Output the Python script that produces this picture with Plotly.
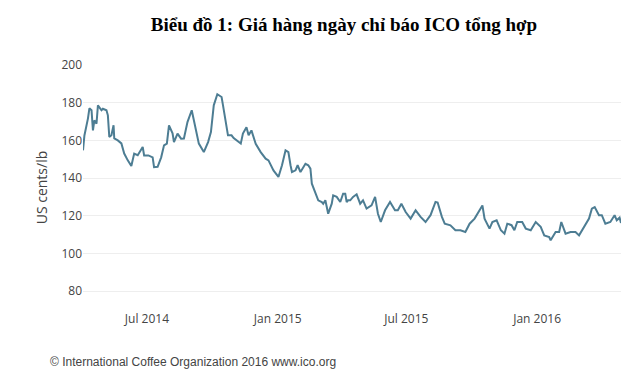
import plotly.graph_objects as go

dates = [
    "2014-04-02", "2014-04-04", "2014-04-09", "2014-04-11", "2014-04-14", "2014-04-16",
    "2014-04-18", "2014-04-21", "2014-04-23", "2014-04-28", "2014-04-30", "2014-05-05",
    "2014-05-07", "2014-05-09", "2014-05-12", "2014-05-15", "2014-05-16", "2014-05-21",
    "2014-05-26", "2014-05-30", "2014-06-04", "2014-06-09", "2014-06-13", "2014-06-18",
    "2014-06-25", "2014-06-27", "2014-07-03", "2014-07-09", "2014-07-11", "2014-07-16",
    "2014-07-21", "2014-07-25", "2014-07-29", "2014-08-01", "2014-08-06", "2014-08-08",
    "2014-08-13", "2014-08-18", "2014-08-22", "2014-08-27", "2014-09-02", "2014-09-08",
    "2014-09-12", "2014-09-19", "2014-09-25", "2014-09-29", "2014-10-03", "2014-10-08",
    "2014-10-14", "2014-10-16", "2014-10-20", "2014-10-23", "2014-10-28", "2014-10-31",
    "2014-11-10", "2014-11-13", "2014-11-18", "2014-11-21", "2014-11-25", "2014-12-01",
    "2014-12-08", "2014-12-15", "2014-12-19", "2014-12-26", "2015-01-02", "2015-01-07",
    "2015-01-12", "2015-01-16", "2015-01-19", "2015-01-21", "2015-01-26", "2015-01-29",
    "2015-02-02", "2015-02-09", "2015-02-13", "2015-02-16", "2015-02-18", "2015-02-23",
    "2015-02-27", "2015-03-04", "2015-03-06", "2015-03-09", "2015-03-13", "2015-03-18",
    "2015-03-20", "2015-03-25", "2015-03-30", "2015-04-03", "2015-04-06", "2015-04-08",
    "2015-04-10", "2015-04-13", "2015-04-17", "2015-04-22", "2015-04-27", "2015-05-01",
    "2015-05-06", "2015-05-13", "2015-05-18", "2015-05-22", "2015-05-26", "2015-06-01",
    "2015-06-08", "2015-06-15", "2015-06-19", "2015-06-24", "2015-06-30", "2015-07-07",
    "2015-07-14", "2015-07-21", "2015-07-28", "2015-08-04", "2015-08-11", "2015-08-14",
    "2015-08-20", "2015-08-24", "2015-09-01", "2015-09-08", "2015-09-15", "2015-09-22",
    "2015-09-28", "2015-10-05", "2015-10-09", "2015-10-14", "2015-10-16", "2015-10-19",
    "2015-10-26", "2015-10-30", "2015-11-05", "2015-11-11", "2015-11-16", "2015-11-20",
    "2015-11-26", "2015-11-30", "2015-12-04", "2015-12-11", "2015-12-16", "2015-12-23",
    "2015-12-30", "2016-01-06", "2016-01-11", "2016-01-18", "2016-01-20", "2016-01-27",
    "2016-02-01", "2016-02-04", "2016-02-10", "2016-02-17", "2016-02-24", "2016-02-29",
    "2016-03-07", "2016-03-14", "2016-03-18", "2016-03-22", "2016-03-28", "2016-04-01",
    "2016-04-06", "2016-04-13", "2016-04-19", "2016-04-22", "2016-04-26", "2016-04-28",
]

prices = [
    154.7, 162.6, 171.7, 177.0, 176.0, 165.3,
    170.6, 168.9, 178.6, 176.0, 176.8, 176.0,
    173.3, 161.8, 162.7, 168.0, 161.0, 160.0,
    158.4, 153.0, 149.4, 146.4, 153.0, 152.1,
    156.5, 152.0, 152.0, 151.0, 145.8, 146.0,
    151.0, 157.4, 158.3, 168.0, 163.7, 159.1,
    163.6, 160.9, 161.0, 169.7, 176.0, 166.2,
    158.3, 153.8, 159.1, 164.4, 178.6, 184.5,
    183.0, 178.6, 169.7, 162.7, 162.7, 161.2,
    158.3, 163.6, 167.0, 162.7, 165.3, 158.2,
    153.8, 150.3, 149.4, 144.1, 140.6, 146.8,
    154.7, 153.8, 146.8, 143.2, 144.1, 146.8,
    143.2, 147.6, 146.8, 145.0, 137.0, 132.6,
    128.2, 127.3, 126.4, 128.2, 121.1, 126.4,
    130.8, 130.0, 127.3, 131.7, 131.7, 127.3,
    128.2, 128.2, 130.0, 131.4, 126.4, 128.2,
    123.8, 125.5, 130.0, 121.1, 116.7, 122.9,
    127.3, 122.9, 122.9, 126.4, 122.0, 118.5,
    122.9, 119.4, 116.7, 120.3, 127.3, 127.0,
    119.4, 115.8, 114.9, 112.3, 112.3, 111.4,
    115.8, 118.5, 121.1, 124.6, 125.5, 118.5,
    113.2, 116.7, 117.6, 112.3, 110.5, 115.8,
    115.0, 112.3, 116.7, 116.7, 113.2, 112.3,
    116.7, 114.1, 109.6, 108.7, 107.0, 111.4,
    111.4, 116.7, 110.5, 111.4, 111.4, 109.6,
    114.0, 118.5, 123.8, 124.6, 120.3, 120.3,
    115.8, 116.7, 120.3, 117.6, 119.0, 116.2,
]

title_text = "Biểu đồ 1: Giá hàng ngày chỉ báo ICO tổng hợp"
y_title = "US cents/lb"
footer_text = "© International Coffee Organization 2016 www.ico.org"

W, H = 630, 371

fig = go.Figure()
fig.add_trace(go.Scatter(
    x=dates, y=prices, mode="lines",
    line=dict(color="#4d7d93", width=2),
    showlegend=False,
))

fig.update_layout(
    width=W, height=H,
    margin=dict(l=75, r=17, t=57, b=69),
    paper_bgcolor="white", plot_bgcolor="white",
    font=dict(family="Open Sans, sans-serif", size=12, color="#444"),
    title=dict(
        text="<b>" + title_text + "</b>",
        font=dict(family="Liberation Serif, Times New Roman, serif", size=19, color="black"),
        x=336 / W, xanchor="center", xref="container",
        y=1 - 16 / H, yanchor="middle", yref="container",
    ),
    xaxis=dict(
        type="date",
        range=["2014-04-02", "2016-04-28"],
        tick0="2014-01-01", dtick="M6", tickformat="%b %Y",
        showgrid=False, zeroline=False, showline=False, ticks="",
        tickfont=dict(size=12, color="#444"),
    ),
    yaxis=dict(
        range=[70, 200], dtick=20, tick0=0,
        showgrid=True, gridcolor="#eeeeee", gridwidth=1,
        zeroline=False, showline=False, ticks="",
        tickfont=dict(size=12, color="#444"),
        title=dict(text=y_title, font=dict(size=14, color="#444"), standoff=10),
    ),
    annotations=[dict(
        text=footer_text, xref="paper", yref="paper",
        x=(40 - 75) / 538, y=-(354 - 302) / 245,
        xanchor="left", yanchor="middle", showarrow=False,
        font=dict(family="Liberation Sans, Arial, sans-serif", size=12, color="#444"),
    )],
)

fig.write_html("out.html")
